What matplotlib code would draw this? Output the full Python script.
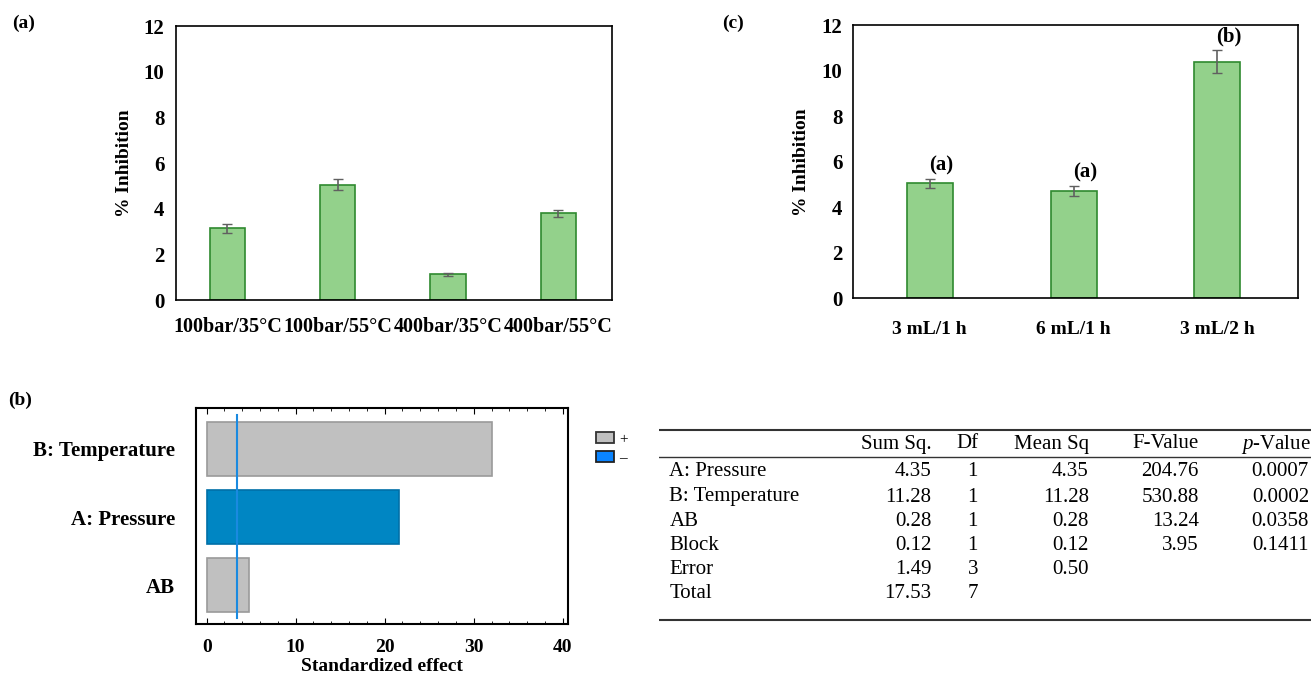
import matplotlib
matplotlib.use("Agg")
import matplotlib.pyplot as plt
from matplotlib.patches import Patch
import numpy as np

plt.rcParams['font.family'] = ['Liberation Serif', 'DejaVu Serif']
plt.rcParams['mathtext.fontset'] = 'custom'
plt.rcParams['mathtext.it'] = 'Liberation Serif:italic'
plt.rcParams['mathtext.rm'] = 'Liberation Serif'

# (a) supercritical conditions
cond_labels = ['100bar/35°C', '100bar/55°C', '400bar/35°C', '400bar/55°C']
cond_inhib = [3.15, 5.05, 1.12, 3.8]
cond_err = [0.2, 0.25, 0.06, 0.15]

# (c) extraction volume / time
ext_labels = ['3 mL/1 h', '6 mL/1 h', '3 mL/2 h']
ext_inhib = [5.05, 4.72, 10.4]
ext_err = [0.2, 0.22, 0.52]
ext_groups = ['(a)', '(a)', '(b)']

# (b) Pareto chart of standardized effects
effect_names = ['B: Temperature', 'A: Pressure', 'AB']
effect_values = [32.1, 21.6, 4.7]
effect_sign = ['+', '-', '+']
t_limit = 3.4

# ANOVA table
anova_cols = ['Sum Sq.', 'Df', 'Mean Sq', 'F-Value', '$p$-Value']
anova_rows = ['A: Pressure', 'B: Temperature', 'AB', 'Block', 'Error', 'Total']
sum_sq = ['4.35', '11.28', '0.28', '0.12', '1.49', '17.53']
df = ['1', '1', '1', '1', '3', '7']
mean_sq = ['4.35', '11.28', '0.28', '0.12', '0.50', '']
f_val = ['204.76', '530.88', '13.24', '3.95', '', '']
p_val = ['0.0007', '0.0002', '0.0358', '0.1411', '', '']

green = '#93d18b'
green_edge = '#2f8a2f'
grey = '#c0c0c0'
blue = '#0086c3'

fig = plt.figure(figsize=(13.11, 6.78), dpi=100)


def inhibition_axes(ax, labels, vals, errs, xsize):
    x = np.arange(len(labels))
    ax.bar(x, vals, width=0.32, color=green, edgecolor=green_edge, linewidth=1.2)
    ax.errorbar(x, vals, yerr=errs, fmt='none', ecolor='#606060', capsize=3.5, elinewidth=1.2)
    ax.set_ylim(0, 12)
    ax.set_yticks(range(0, 13, 2))
    ax.set_xticks(x)
    ax.set_xticklabels(labels, fontsize=xsize, fontweight='bold')
    ax.tick_params(axis='both', length=0, pad=8)
    for lab in ax.get_yticklabels():
        lab.set_fontsize(15)
        lab.set_fontweight('bold')
    ax.set_ylabel('% Inhibition', fontsize=14, fontweight='bold', labelpad=8)
    for s in ax.spines.values():
        s.set_linewidth(1.2)
    return x


# panel (a)
ax_a = fig.add_axes([0.134, 0.5575, 0.333, 0.404])
inhibition_axes(ax_a, cond_labels, cond_inhib, cond_err, 14.5)
ax_a.set_xlim(-0.47, 3.49)
ax_a.tick_params(axis='x', pad=12)

# panel (c)
ax_c = fig.add_axes([0.651, 0.560, 0.339, 0.403])
xc = inhibition_axes(ax_c, ext_labels, ext_inhib, ext_err, 14)
ax_c.set_xlim(-0.53, 2.56)
ax_c.tick_params(axis='x', pad=16)
for xi, v, e, g in zip(xc, ext_inhib, ext_err, ext_groups):
    ax_c.text(xi + 0.08, v + e + 0.15, g, ha='center', va='bottom',
              fontsize=15, fontweight='bold')

# panel (b)
ax_b = fig.add_axes([0.1495, 0.0796, 0.2838, 0.3186])
yb = np.arange(len(effect_names))
colors = [grey if s == '+' else blue for s in effect_sign]
edges = ['#9a9a9a' if s == '+' else '#0070a8' for s in effect_sign]
ax_b.barh(yb, effect_values, height=0.8, color=colors, edgecolor=edges, linewidth=1.2)
ax_b.axvline(t_limit, ymin=0.03, ymax=0.97, color='#1a8ae0', linewidth=1.5)
ax_b.set_xlim(-1.2, 40.6)
ax_b.set_ylim(2.57, -0.6)
ax_b.set_yticks(yb)
ax_b.set_yticklabels(effect_names, fontsize=15, fontweight='bold')
ax_b.set_xticks(range(0, 41, 10))
ax_b.set_xticks(range(0, 41, 2), minor=True)
ax_b.tick_params(axis='x', which='major', top=True, direction='in', length=4, labelsize=14, pad=11)
ax_b.tick_params(axis='x', which='minor', top=True, direction='in', length=2)
ax_b.tick_params(axis='y', length=0, pad=15)
for lab in ax_b.get_xticklabels():
    lab.set_fontweight('bold')
ax_b.set_xlabel('Standardized effect', fontsize=14, fontweight='bold', labelpad=1)
for s in ax_b.spines.values():
    s.set_linewidth(1.5)
handles = [Patch(facecolor=grey, edgecolor='#333333', linewidth=1.3, label='+'),
           Patch(facecolor='#0a84ff', edgecolor='#222222', linewidth=1.3, label='–')]
ax_b.legend(handles=handles, loc='upper left', bbox_to_anchor=(1.075, 0.89), frameon=False,
            borderpad=0, borderaxespad=0, handlelength=1.2, handleheight=0.75,
            handletextpad=0.3, labelspacing=0.35, fontsize=11)

# ANOVA table
ax_t = fig.add_axes([0.503, 0.0, 0.497, 1.0])
ax_t.set_xlim(660, 1311)
ax_t.set_ylim(678, 0)
ax_t.axis('off')
ax_t.plot([660, 1311], [430, 430], color='#333333', linewidth=1.5)
ax_t.plot([660, 1311], [457, 457], color='#333333', linewidth=1.0)
ax_t.plot([660, 1311], [620, 620], color='#333333', linewidth=1.5)
col_x = [932, 973, 1089, 1199, 1309]
col_data = [sum_sq, df, mean_sq, f_val, p_val]
tsize = 15
for j, (cx, name) in enumerate(zip(col_x, anova_cols)):
    if j == 1:
        ax_t.text(968, 444, name, ha='center', va='center', fontsize=tsize)
    else:
        ax_t.text(cx + (2 if j == 4 else 0), 444, name, ha='right', va='center', fontsize=tsize)
row_y = [472, 497, 521, 545, 570, 594]
for i, ry in enumerate(row_y):
    ax_t.text(670, ry, anova_rows[i], ha='left', va='center', fontsize=tsize)
    for j, (cx, col) in enumerate(zip(col_x, col_data)):
        ha = 'center' if j == 1 else 'right'
        ax_t.text(cx, ry, col[i], ha=ha, va='center', fontsize=tsize)

# panel letters
fig.text(0.009, 0.965, '(a)', fontsize=14, fontweight='bold', va='center')
fig.text(0.551, 0.965, '(c)', fontsize=14, fontweight='bold', va='center')
fig.text(0.006, 0.41, '(b)', fontsize=14, fontweight='bold', va='center')

fig.savefig('out.png', dpi=100)
